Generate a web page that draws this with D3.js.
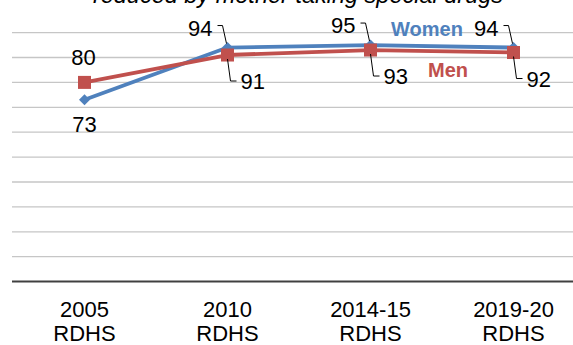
<!DOCTYPE html>
<html>
<head>
<meta charset="utf-8">
<script src="https://cdn.jsdelivr.net/npm/d3@7"></script>
<style>
  html, body { margin: 0; padding: 0; background: #fff; }
  svg { display: block; font-family: Arial, "Liberation Sans", sans-serif; }
</style>
</head>
<body>
<svg id="chart" width="573" height="345"></svg>
<script>
// Survey rounds and percentages by sex
const categories = ["2005|RDHS", "2010|RDHS", "2014-15|RDHS", "2019-20|RDHS"];
const women = [73, 94, 95, 94];
const men = [80, 91, 93, 92];
const yTicks = [0, 10, 20, 30, 40, 50, 60, 70, 80, 90, 100];
const titleText = "reduced by mother taking special drugs";

const W = 573, H = 345;
const svg = d3.select("#chart");

const x = d3.scalePoint().domain(categories).range([13, 585]).padding(0.5);
const y = d3.scaleLinear().domain([0, 100]).range([281.6, 32.6]);

const colWomen = "#4f81bd", colMen = "#c0504d";

// Title (its upper part runs past the top edge)
svg.append("text")
  .attr("x", 298).attr("y", 3)
  .attr("text-anchor", "middle")
  .attr("font-size", 23.5).attr("font-style", "italic")
  .attr("fill", "#000")
  .text(titleText);

// Horizontal gridlines
svg.append("g")
  .selectAll("line")
  .data(yTicks.filter(d => d > 0))
  .join("line")
  .attr("x1", 12).attr("x2", W)
  .attr("y1", d => y(d)).attr("y2", d => y(d))
  .attr("stroke", "#c6c6c6").attr("stroke-width", 1.3);

// Category axis
const xAxis = svg.append("g")
  .attr("transform", `translate(0,${y(0)})`)
  .call(d3.axisBottom(x).tickSize(0).tickFormat(""));
xAxis.select(".domain").attr("d", `M12,0H${W}`).attr("stroke", "#404040").attr("stroke-width", 2);

const labels = svg.append("g")
  .attr("font-size", 22).attr("fill", "#000").attr("text-anchor", "middle");
categories.forEach(c => {
  const parts = c.split("|");
  const t = labels.append("text").attr("x", x(c)).attr("y", 317);
  t.append("tspan").attr("x", x(c)).attr("y", 317).text(parts[0]);
  t.append("tspan").attr("x", x(c)).attr("y", 341).text(parts[1]);
});

const line = d3.line().x((d, i) => x(categories[i])).y(d => y(d));

// Women series
svg.append("path").datum(women)
  .attr("d", line).attr("fill", "none")
  .attr("stroke", colWomen).attr("stroke-width", 3.8).attr("stroke-linejoin", "round");
svg.append("g").selectAll("path")
  .data(women).join("path")
  .attr("d", d3.symbol().type(d3.symbolSquare).size(60))
  .attr("transform", (d, i) => `translate(${x(categories[i])},${y(d)}) rotate(45)`)
  .attr("fill", colWomen);

// Men series
svg.append("path").datum(men)
  .attr("d", line).attr("fill", "none")
  .attr("stroke", colMen).attr("stroke-width", 3.8).attr("stroke-linejoin", "round");
svg.append("g").selectAll("rect")
  .data(men).join("rect")
  .attr("x", (d, i) => x(categories[i]) - 6.5)
  .attr("y", d => y(d) - 6.5)
  .attr("width", 13).attr("height", 13)
  .attr("fill", colMen);

// Value labels with leader lines
const vl = svg.append("g").attr("font-size", 22).attr("fill", "#000");
const leader = svg.append("g").attr("fill", "none").attr("stroke", "#000").attr("stroke-width", 1);

women.forEach((v, i) => {
  const px = x(categories[i]), py = y(v);
  if (i === 0) {
    vl.append("text").attr("x", px).attr("y", py + 32).attr("text-anchor", "middle").text(v);
  } else {
    vl.append("text").attr("x", px - 15).attr("y", py - 12).attr("text-anchor", "end").text(v);
    leader.append("path").attr("d", `M${px - 10},${py - 22}H${px - 5}L${px - 1},${py - 4}`);
  }
});
men.forEach((v, i) => {
  const px = x(categories[i]), py = y(v);
  if (i === 0) {
    vl.append("text").attr("x", px - 1).attr("y", py - 17).attr("text-anchor", "middle").text(v);
  } else {
    vl.append("text").attr("x", px + 13).attr("y", py + 34).attr("text-anchor", "start").text(v);
    leader.append("path").attr("d", `M${px},${py + 4}L${px + 3},${py + 26}H${px + 9}`);
  }
});

// Series names
svg.append("text").attr("x", 391).attr("y", 36)
  .attr("font-size", 20).attr("font-weight", "bold").attr("fill", colWomen).text("Women");
svg.append("text").attr("x", 428).attr("y", 77)
  .attr("font-size", 20).attr("font-weight", "bold").attr("fill", colMen).text("Men");
</script>
</body>
</html>
